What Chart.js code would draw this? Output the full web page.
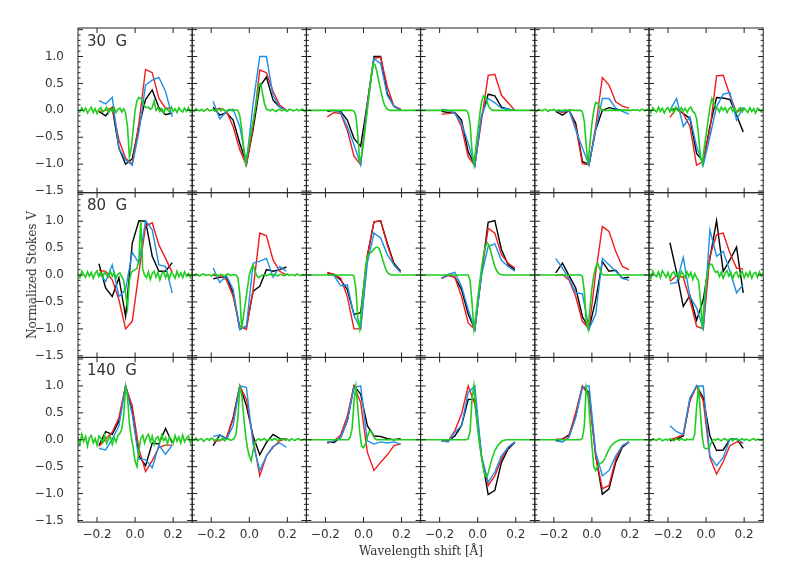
<!DOCTYPE html>
<html>
<head>
<meta charset="utf-8">
<script src="https://cdn.jsdelivr.net/npm/chart.js@4.4.1/dist/chart.umd.min.js"></script>
<style>
body { margin: 0; background: #fff; }
#wrap { position: relative; width: 807px; height: 581px; overflow: hidden; }
#wrap canvas { position: absolute; left: 0; top: 0; }
.lbl { position: absolute; color: #333; white-space: pre; z-index: 5; }
.field { left: 87px; font: 15px 'DejaVu Sans'; line-height: 15px; }
.title { font: 12px 'DejaVu Serif'; line-height: 14px; transform: translate(-50%, -50%); }
</style>
</head>
<body>
<div id="wrap">
	<div class="lbl field" style="top:34px">30  G</div>
	<div class="lbl field" style="top:198px">80  G</div>
	<div class="lbl field" style="top:363px">140  G</div>
	<div class="lbl title" style="left:32px;top:275px;transform:translate(-50%,-50%) rotate(-90deg)">Normalized Stokes V</div>
	<div class="lbl title" style="left:421px;top:551px">Wavelength shift [Å]</div>
</div>
<script>
//Field strengths (one row each)
var FIELDS = ['30 G', '80 G', '140 G'];

//Axis ticks
var X_TICKS = [-0.2, 0.0, 0.2];
var Y_TICKS = [-1.5, -1.0, -0.5, 0.0, 0.5, 1.0];

//Coarse wavelength sampling of black, red, blue profiles
var LAM = [-0.19, -0.155, -0.12, -0.085, -0.05, -0.015, 0.02, 0.055, 0.09, 0.125, 0.16, 0.195];

//Fine wavelength sampling of the green profile
var LAM_HI = [-0.30,-0.29,-0.28,-0.27,-0.26,-0.25,-0.24,-0.23,-0.22,-0.21,
	-0.20,-0.19,-0.18,-0.17,-0.16,-0.15,-0.14,-0.13,-0.12,-0.11,
	-0.10,-0.09,-0.08,-0.07,-0.06,-0.05,-0.04,-0.03,-0.02,-0.01,
	0.00,0.01,0.02,0.03,0.04,0.05,0.06,0.07,0.08,0.09,
	0.10,0.11,0.12,0.13,0.14,0.15,0.16,0.17,0.18,0.19,
	0.20,0.21,0.22,0.23,0.24,0.25,0.26,0.27,0.28,0.29,0.30];

//30 G
var BLACK_30 = [
	[-0.02, -0.1, 0.05, -0.7, -1.0, -0.9, -0.3, 0.2, 0.38, 0.05, -0.08, -0.05],
	[0.06, -0.09, -0.04, -0.18, -0.61, -0.99, -0.36, 0.44, 0.62, 0.19, 0.06, 0.0],
	[-0.02, 0.0, -0.02, -0.18, -0.52, -0.67, 0.13, 1.0, 1.0, 0.31, 0.08, 0.02],
	[-0.02, -0.04, -0.04, -0.18, -0.77, -1.01, -0.12, 0.30, 0.27, 0.06, 0.02, 0.0],
	[-0.02, -0.09, 0.0, -0.24, -0.95, -1.01, -0.36, 0.0, 0.05, 0.02, 0.0, 0.0],
	[0.0, 0.04, -0.06, -0.15, -0.80, -0.95, -0.30, 0.24, 0.23, 0.20, -0.09, -0.40]
];
var RED_30 = [
	[-0.02, 0.0, 0.05, -0.55, -0.89, -1.0, -0.24, 0.76, 0.70, 0.22, 0.04, 0.04],
	[0.0, 0.04, -0.02, -0.30, -0.73, -1.02, -0.30, 0.75, 0.70, 0.35, 0.10, 0.0],
	[-0.12, -0.04, -0.06, -0.37, -0.85, -1.01, 0.13, 0.96, 0.99, 0.44, 0.07, 0.02],
	[-0.07, -0.06, -0.04, -0.31, -0.86, -1.03, -0.18, 0.65, 0.67, 0.28, 0.14, 0.0],
	[0.0, -0.04, 0.0, -0.30, -0.99, -1.01, -0.30, 0.61, 0.47, 0.16, 0.08, 0.04],
	[-0.13, 0.04, -0.06, -0.30, -1.02, -0.95, -0.36, 0.64, 0.65, 0.28, -0.04, 0.04]
];
var BLUE_30 = [
	[0.18, 0.12, 0.24, -0.70, -0.92, -1.02, -0.40, 0.47, 0.56, 0.61, 0.35, -0.12],
	[0.17, -0.16, -0.02, 0.02, -0.30, -0.97, 0.13, 1.0, 1.0, 0.27, 0.06, 0.0],
	[0.0, 0.0, -0.04, -0.30, -0.64, -1.01, 0.07, 0.96, 0.87, 0.28, 0.07, 0.0],
	[0.02, 0.0, -0.06, -0.24, -0.61, -1.03, -0.09, 0.22, 0.14, 0.04, 0.02, 0.0],
	[0.0, -0.02, 0.0, -0.36, -0.70, -1.02, -0.36, 0.22, 0.22, 0.04, -0.02, -0.07],
	[0.0, 0.22, -0.30, -0.12, -0.67, -1.02, -0.49, 0.07, 0.30, 0.33, -0.18, 0.06]
];
var GREEN_30 = [
	[0.02,-0.03,0.05,-0.02,0.04,-0.05,0.01,0.06,-0.04,0.03,
	-0.06,0.02,0.05,-0.03,0.0,0.06,-0.05,0.03,-0.02,0.05,
	-0.04,0.02,0.04,-0.03,0.03,-0.05,-0.3,-0.86,-0.7,-0.35,
	0.0,0.18,0.24,0.22,0.15,0.08,0.05,0.06,0.02,0.05,
	0.18,0.0,0.05,-0.02,0.03,-0.05,0.04,0.01,-0.03,0.06,
	-0.02,0.03,-0.04,0.05,0.0,-0.03,0.04,-0.02,0.05,-0.03,0.02],
	[0.01,-0.02,0.03,0.0,-0.01,0.02,-0.02,0.01,0.03,-0.01,
	0.0,0.02,-0.02,0.01,0.02,-0.01,0.03,0.0,-0.02,0.01,
	0.02,-0.01,0.0,0.01,0.0,-0.1,-0.35,-0.7,-0.98,-0.8,
	-0.6,-0.4,-0.2,0.0,0.2,0.48,0.5,0.3,0.12,0.02,
	0.01,-0.01,0.02,0.0,-0.02,0.01,0.02,-0.01,0.01,0.0,
	-0.02,0.02,0.01,-0.01,0.0,0.02,-0.01,0.01,0.02,-0.02,0.01],
	[0,0,0,0,0,0,0,0,0,0,
	0,0,0,0,0,0,0,0,0,0,
	0,0,0,0,0,-0.02,-0.1,-0.45,-0.95,-0.85,
	-0.6,-0.3,0.0,0.3,0.62,0.87,0.85,0.72,0.55,0.38,
	0.22,0.1,0.04,0.01,0,0,0,0,0,0,
	0,0,0,0,0,0,0,0,0,0,0],
	[0,0,0,0,0,0,0,0,0,0,
	0,0,0,0,0,0,0,0,0,0,
	0,0,0,0,0,-0.05,-0.25,-0.75,-1.0,-0.7,
	-0.4,-0.1,0.15,0.27,0.25,0.15,0.06,0.02,0.0,0,
	0,0,0,0,0,0,0,0,0,0,
	0,0,0,0,0,0,0,0,0,0,0],
	[0.01,-0.02,0.02,0.0,-0.01,0.02,0.01,-0.02,0.01,0.0,
	0.02,-0.01,0.0,0.01,-0.01,0.0,0.01,0.0,0.0,0.01,
	0,0,0,0,0,-0.03,-0.2,-0.65,-1.0,-0.6,
	-0.25,0.0,0.15,0.13,0.06,0.02,0,0,0,0,
	0,0,0,0,0,0,0,0,0,0,
	0,0,0.01,0,0.01,-0.01,0.02,0.01,-0.01,0.02,0.01],
	[0.03,-0.04,0.05,0.0,-0.03,0.06,-0.02,0.04,-0.05,0.02,
	0.05,-0.03,0.04,-0.04,0.06,0.0,-0.03,0.05,-0.02,0.04,
	-0.04,0.03,0.06,-0.02,-0.05,-0.15,-0.45,-0.85,-1.0,-0.7,
	-0.45,-0.2,0.05,0.22,0.15,0.05,0.04,-0.03,0.06,0.0,
	0.05,-0.04,0.03,0.06,-0.02,0.04,-0.05,0.02,0.05,-0.03,
	0.04,0.0,-0.04,0.05,-0.02,0.03,-0.05,0.04,0.02,-0.03,0.03]
];

//80 G
var BLACK_80 = [
	[0.21, -0.24, -0.40, -0.05, -0.77, 0.59, 1.01, 1.0, 0.35, 0.07, 0.07, 0.23],
	[-0.07, -0.04, -0.04, -0.33, -1.01, -0.95, -0.30, -0.21, 0.10, 0.07, 0.10, 0.15],
	[0.04, 0.01, -0.09, -0.27, -0.73, -0.70, 0.35, 0.99, 1.01, 0.59, 0.22, 0.07],
	[-0.06, 0.01, -0.04, -0.27, -0.73, -1.01, 0.04, 0.98, 1.01, 0.47, 0.19, 0.10],
	[0.04, 0.22, -0.01, -0.24, -0.77, -1.0, -0.46, 0.25, 0.07, 0.09, -0.06, -0.04],
	[0.60, 0.05, -0.58, -0.38, -0.84, -0.46, 0.31, 1.01, 0.07, 0.28, 0.52, -0.33]
];
var RED_80 = [
	[0.09, 0.07, -0.09, -0.46, -1.0, -0.86, 0.04, 0.91, 0.97, 0.56, 0.31, 0.05],
	[-0.01, -0.01, -0.09, -0.40, -0.95, -1.01, -0.27, 0.78, 0.73, 0.28, 0.07, 0.0],
	[0.05, 0.01, -0.06, -0.40, -1.0, -1.0, 0.35, 0.99, 1.01, 0.56, 0.19, 0.05],
	[-0.06, -0.01, -0.04, -0.40, -0.89, -1.01, 0.04, 0.87, 0.78, 0.38, 0.22, 0.13],
	[-0.01, 0.01, -0.09, -0.40, -0.86, -1.0, 0.04, 0.90, 0.81, 0.44, 0.16, 0.10],
	[-0.12, -0.01, -0.04, -0.46, -0.95, -1.0, 0.35, 0.75, 0.78, 0.41, 0.13, 0.11]
];
var BLUE_80 = [
	[0.04, -0.12, 0.19, -0.40, -0.27, 0.42, 0.22, 1.01, 0.84, 0.19, 0.16, -0.33],
	[0.13, -0.14, -0.01, -0.27, -1.01, -0.95, 0.22, 0.26, 0.31, -0.04, 0.16, 0.07],
	[0.01, -0.01, -0.2, -0.18, -0.75, -1.0, 0.22, 0.78, 0.69, 0.38, 0.19, 0.05],
	[-0.06, 0.01, 0.05, -0.21, -0.64, -1.01, 0.0, 0.53, 0.58, 0.27, 0.16, 0.07],
	[0.31, 0.13, -0.07, -0.33, -0.35, -1.0, -0.73, 0.31, 0.19, 0.07, -0.06, -0.10],
	[-0.16, -0.14, 0.33, -0.40, -0.61, -1.0, 0.84, 0.35, 0.44, 0.07, -0.33, -0.18]
];
var GREEN_80 = [
	[0.03,-0.05,0.07,0.01,-0.04,0.06,-0.02,0.05,-0.06,0.03,
	0.08,-0.03,0.04,-0.05,0.06,0.0,-0.04,0.07,-0.02,0.05,
	-0.06,0.02,0.04,-0.03,-0.1,-0.35,-0.6,-0.1,0.05,0.08,
	0.1,0.12,0.3,1.0,0.1,0.0,-0.05,0.06,-0.08,0.03,
	0.07,-0.04,0.05,-0.09,0.02,0.06,-0.05,0.04,-0.07,0.05,
	0.01,-0.06,0.07,-0.03,0.04,-0.05,0.06,-0.02,0.03,-0.04,0.05],
	[0.01,-0.01,0.02,0.0,-0.02,0.01,0.02,-0.01,0.0,0.01,
	-0.02,0.01,0.02,0.0,-0.01,0.01,0.0,-0.02,0.01,0.02,
	-0.01,0.0,0.01,0.0,-0.05,-0.35,-1.0,-0.75,-0.5,-0.25,
	0.0,0.12,0.19,0.08,-0.02,-0.05,-0.02,0.0,0.01,-0.01,
	0.0,0.02,-0.01,0.01,0.0,-0.02,0.01,0.01,-0.01,0.0,
	0.02,-0.01,0.01,0.0,-0.01,0.02,0.0,-0.01,0.01,0.0,0.01],
	[0,0,0,0,0,0,0,0,0,0,
	0,0,0,0,0,0,0,0,0,0,
	0,0,0,0,0,-0.02,-0.25,-0.8,-1.0,-0.62,
	-0.25,0.12,0.33,0.4,0.42,0.46,0.5,0.52,0.5,0.42,
	0.3,0.18,0.08,0.03,0.01,0,0,0,0,0,
	0,0,0,0,0,0,0,0,0,0,0],
	[0,0,0,0,0,0,0,0,0,0,
	0,0,0,0,0,0,0,0,0,0,
	0,0,0,0,0,0,-0.1,-0.5,-1.0,-0.75,
	-0.45,-0.15,0.12,0.35,0.52,0.6,0.55,0.42,0.28,0.16,
	0.08,0.03,0.01,0,0,0,0,0,0,0,
	0,0,0,0,0,0,0,0,0,0,0],
	[0,0,0,0,0,0,0,0,0,0,
	0,0,0,0,0,0,0,0,0,0,
	0,0,0,0,0,-0.02,-0.3,-0.85,-1.0,-0.6,
	-0.25,0.0,0.15,0.22,0.12,0.03,0,0,0,0,
	0,0,0,0,0,0,0,0,0,0,
	0,0,0,0,0,0,0,0,0,0,0],
	[0.04,-0.06,0.07,0.0,-0.03,0.06,-0.05,0.08,0.02,-0.04,
	0.05,-0.07,0.03,0.06,-0.02,0.04,-0.06,0.07,0.01,-0.05,
	0.06,-0.03,0.05,-0.08,0.03,-0.05,-0.1,-0.45,-1.0,-0.5,
	-0.1,0.1,0.2,0.2,0.12,0.05,0.07,-0.03,0.05,-0.06,
	0.04,0.08,-0.02,0.05,-0.07,0.03,0.06,-0.04,0.02,0.07,
	-0.05,0.04,-0.03,0.06,-0.06,0.03,0.05,-0.04,0.06,-0.02,0.04]
];

//140 G
var BLACK_140 = [
	[-0.11, 0.15, 0.10, 0.35, 1.0, 0.54, -0.30, -0.48, -0.06, -0.08, 0.21, -0.06],
	[-0.11, 0.09, 0.02, 0.41, 1.0, 0.63, 0.07, -0.28, -0.05, 0.10, 0.02, 0.01],
	[-0.04, -0.05, 0.04, 0.35, 1.0, 0.85, 0.26, 0.07, 0.06, 0.02, 0.0, 0.02],
	[-0.02, -0.02, 0.07, 0.26, 0.75, 0.75, -0.30, -1.02, -0.94, -0.42, -0.17, -0.05],
	[-0.02, 0.01, 0.09, 0.44, 0.99, 0.88, -0.30, -1.01, -0.91, -0.42, -0.14, -0.04],
	[-0.02, 0.01, 0.07, 0.75, 1.0, 0.78, 0.07, -0.20, -0.19, 0.01, 0.02, -0.16]
];
var RED_140 = [
	[-0.12, 0.01, 0.14, 0.41, 1.0, 0.63, -0.17, -0.59, -0.39, -0.14, -0.10, -0.10],
	[-0.02, -0.02, 0.04, 0.38, 1.0, 0.75, 0.01, -0.67, -0.30, -0.14, -0.02, 0.02],
	[-0.06, -0.02, 0.09, 0.44, 1.0, 0.69, -0.23, -0.57, -0.42, -0.28, -0.11, -0.08],
	[-0.02, -0.02, 0.17, 0.48, 1.0, 0.66, -0.30, -0.85, -0.67, -0.36, -0.14, -0.04],
	[0.01, 0.01, 0.07, 0.51, 1.0, 0.81, -0.30, -0.91, -0.85, -0.36, -0.11, -0.04],
	[0.0, 0.04, 0.10, 0.72, 1.0, 0.72, -0.33, -0.64, -0.41, -0.11, -0.04, -0.06]
];
var BLUE_140 = [
	[-0.16, -0.19, 0.01, 0.26, 1.0, 0.47, -0.36, -0.37, -0.52, -0.10, -0.27, -0.10],
	[0.06, 0.09, 0.01, 0.26, 1.0, 0.97, -0.08, -0.57, -0.30, -0.12, -0.06, -0.14],
	[-0.06, -0.02, 0.04, 0.35, 0.97, 1.0, -0.02, -0.08, -0.04, -0.06, -0.04, -0.08],
	[-0.02, -0.04, 0.14, 0.26, 0.88, 1.0, -0.30, -0.79, -0.60, -0.30, -0.14, -0.04],
	[-0.02, -0.04, 0.04, 0.41, 0.97, 1.0, -0.23, -0.67, -0.57, -0.30, -0.11, -0.04],
	[0.26, 0.15, 0.10, 0.78, 1.0, 1.0, -0.30, -0.48, -0.33, 0.01, 0.02, -0.06]
];
var GREEN_140 = [
	[0.05,-0.08,0.1,-0.03,0.06,-0.12,0.04,0.08,-0.06,0.02,
	-0.1,0.07,0.03,-0.05,0.09,-0.07,0.01,0.06,-0.09,0.04,
	-0.04,0.08,0.12,0.2,0.45,0.98,0.8,0.3,0.05,-0.15,
	-0.4,-0.5,-0.2,0.02,0.08,-0.06,0.05,0.1,-0.04,0.07,
	-0.09,0.03,0.06,-0.05,0.09,-0.02,0.04,-0.08,0.06,0.01,
	-0.07,0.08,-0.03,0.05,-0.06,0.09,-0.04,0.03,0.07,-0.05,0.04],
	[0.02,-0.01,0.03,-0.02,0.01,0.02,-0.03,0.0,0.02,-0.01,
	0.03,0.01,-0.02,0.02,0.0,-0.01,0.03,-0.02,0.01,0.02,
	-0.01,0.0,0.02,0.1,0.4,0.97,0.85,0.45,0.1,-0.15,
	-0.3,-0.39,-0.2,-0.05,0.0,0.02,-0.01,0.01,0.02,-0.02,
	0.0,0.01,-0.01,0.02,0.01,-0.02,0.01,0.0,0.02,-0.01,
	0.01,-0.02,0.02,0.0,-0.01,0.01,0.02,-0.01,0.0,0.01,-0.01],
	[0,0,0,0,0,0,0,0,0,0,
	0,0,0,0,0,0,0,0,0,0,
	0,0,0,0.05,0.2,0.7,0.99,0.6,0.15,-0.12,
	-0.15,-0.08,0.05,0.15,0.17,0.08,0.02,0,0,0,
	0,0,0,0,0,0,0,0,0,0,
	0,0,0,0,0,0,0,0,0,0,0],
	[0,0,0,0,0,0,0,0,0,0,
	0,0,0,0,0,0,0,0,0,0,
	0,0,0,0,0,0.02,0.15,0.75,1.0,0.55,
	0.2,-0.1,-0.32,-0.55,-0.68,-0.68,-0.55,-0.42,-0.3,-0.2,
	-0.14,-0.09,-0.05,-0.02,-0.01,0,0,0,0,0,
	0,0,0,0,0,0,0,0,0,0,0],
	[0,0,0,0,0,0,0,0,0,0,
	0,0,0,0,0,0,0,0,0,0,
	0,0,0,0,0,0.03,0.25,0.97,0.8,0.35,
	-0.1,-0.5,-0.57,-0.5,-0.45,-0.43,-0.4,-0.33,-0.25,-0.18,
	-0.12,-0.08,-0.05,-0.03,-0.01,0,0,0,0,0,
	0,0,0,0,0,0,0,0,0,0,0],
	[0.01,-0.02,0.02,0.0,-0.01,0.02,0.01,-0.02,0.0,0.01,
	-0.01,0.02,0.0,-0.02,0.01,0.01,-0.01,0.02,0.0,-0.01,
	0.01,0.0,0.01,0.0,0.1,0.6,0.99,0.5,0.05,-0.15,
	-0.17,-0.15,-0.12,-0.03,0.01,-0.01,0.02,0.0,-0.02,0.01,
	0.02,-0.01,0.0,0.01,-0.02,0.02,0.01,-0.01,0.0,0.02,
	-0.01,0.01,0.0,-0.02,0.01,0.02,-0.01,0.01,0.0,-0.01,0.02]
];

var ROWS = [
	{black: BLACK_30, red: RED_30, blue: BLUE_30, green: GREEN_30},
	{black: BLACK_80, red: RED_80, blue: BLUE_80, green: GREEN_80},
	{black: BLACK_140, red: RED_140, blue: BLUE_140, green: GREEN_140}
];

//page geometry
var W = 807, H = 581;
var LEFT = 78, TOP = 28, PW = 114.2, PH = 164.7, XH = 30;

Chart.defaults.font.family = 'DejaVu Sans';
Chart.defaults.font.size = 12;
Chart.defaults.color = '#333';

function fmt(v) {
	return v.toFixed(1).replace('-', '\u2212');
}

function pts(xs, ys) {
	return ys.map(function (y, i) { return {x: xs[i], y: y}; });
}

function line(data, color, width) {
	return {data: data, borderColor: color, borderWidth: width, pointRadius: 0, fill: false, tension: 0};
}

//frame and inward ticks of a panel
var frame = {
	id: 'frame',
	afterDatasetsDraw: function (chart) {
		var ctx = chart.ctx, a = chart.chartArea, x = chart.scales.x, y = chart.scales.y;
		ctx.save();
		ctx.strokeStyle = '#222';
		ctx.lineWidth = 1;
		ctx.beginPath();
		for (var k = -15; k <= 15; k++) {
			var py = y.getPixelForValue(k / 10);
			var len = k % 5 === 0 ? 5 : 2.5;
			ctx.moveTo(a.left, py); ctx.lineTo(a.left + len, py);
			ctx.moveTo(a.right, py); ctx.lineTo(a.right - len, py);
		}
		X_TICKS.forEach(function (v) {
			var px = x.getPixelForValue(v);
			ctx.moveTo(px, a.bottom); ctx.lineTo(px, a.bottom - 5);
			ctx.moveTo(px, a.top); ctx.lineTo(px, a.top + 5);
		});
		ctx.stroke();
		ctx.strokeRect(a.left, a.top, a.right - a.left, a.bottom - a.top);
		ctx.restore();
	}
};

var wrap = document.getElementById('wrap');

function panel(r, c) {
	var pLeft = LEFT + c * PW, pRight = pLeft + PW;
	var pTop = TOP + r * PH, pBottom = pTop + PH;
	var row = ROWS[r];
	var showX = r === 2, showY = c === 0;

	var cv = document.createElement('canvas');
	cv.width = W; cv.height = H;
	wrap.insertBefore(cv, wrap.firstChild);

	return new Chart(cv, {
		type: 'line',
		data: {
			datasets: [
				line(pts(LAM_HI, row.green[c]), '#1fcc1f', 1.6),
				line(pts(LAM, row.blue[c]), '#1e8fe8', 1.4),
				line(pts(LAM, row.red[c]), '#ee1c1c', 1.4),
				line(pts(LAM, row.black[c]), '#000000', 1.4)
			]
		},
		options: {
			responsive: false,
			animation: false,
			events: [],
			layout: {
				padding: {
					left: showY ? 0 : pLeft,
					right: W - pRight,
					top: pTop,
					bottom: showX ? H - pBottom - XH : H - pBottom
				}
			},
			plugins: {legend: {display: false}, tooltip: {enabled: false}},
			scales: {
				x: {
					type: 'linear', min: -0.3, max: 0.3,
					display: showX,
					grid: {display: false}, border: {display: false},
					afterBuildTicks: function (s) { s.ticks = X_TICKS.map(function (v) { return {value: v}; }); },
					afterFit: function (s) { s.height = showX ? XH : 0; },
					ticks: {padding: -2, maxRotation: 0, callback: fmt}
				},
				y: {
					type: 'linear', min: -1.53, max: 1.53,
					display: showY,
					grid: {display: false}, border: {display: false},
					afterBuildTicks: function (s) { s.ticks = Y_TICKS.map(function (v) { return {value: v}; }); },
					afterFit: function (s) { s.width = showY ? LEFT : 0; },
					ticks: {padding: 6, callback: fmt}
				}
			}
		},
		plugins: [frame]
	});
}

for (var r = 0; r < 3; r++) {
	for (var c = 0; c < 6; c++) {
		panel(r, c);
	}
}
</script>
</body>
</html>
